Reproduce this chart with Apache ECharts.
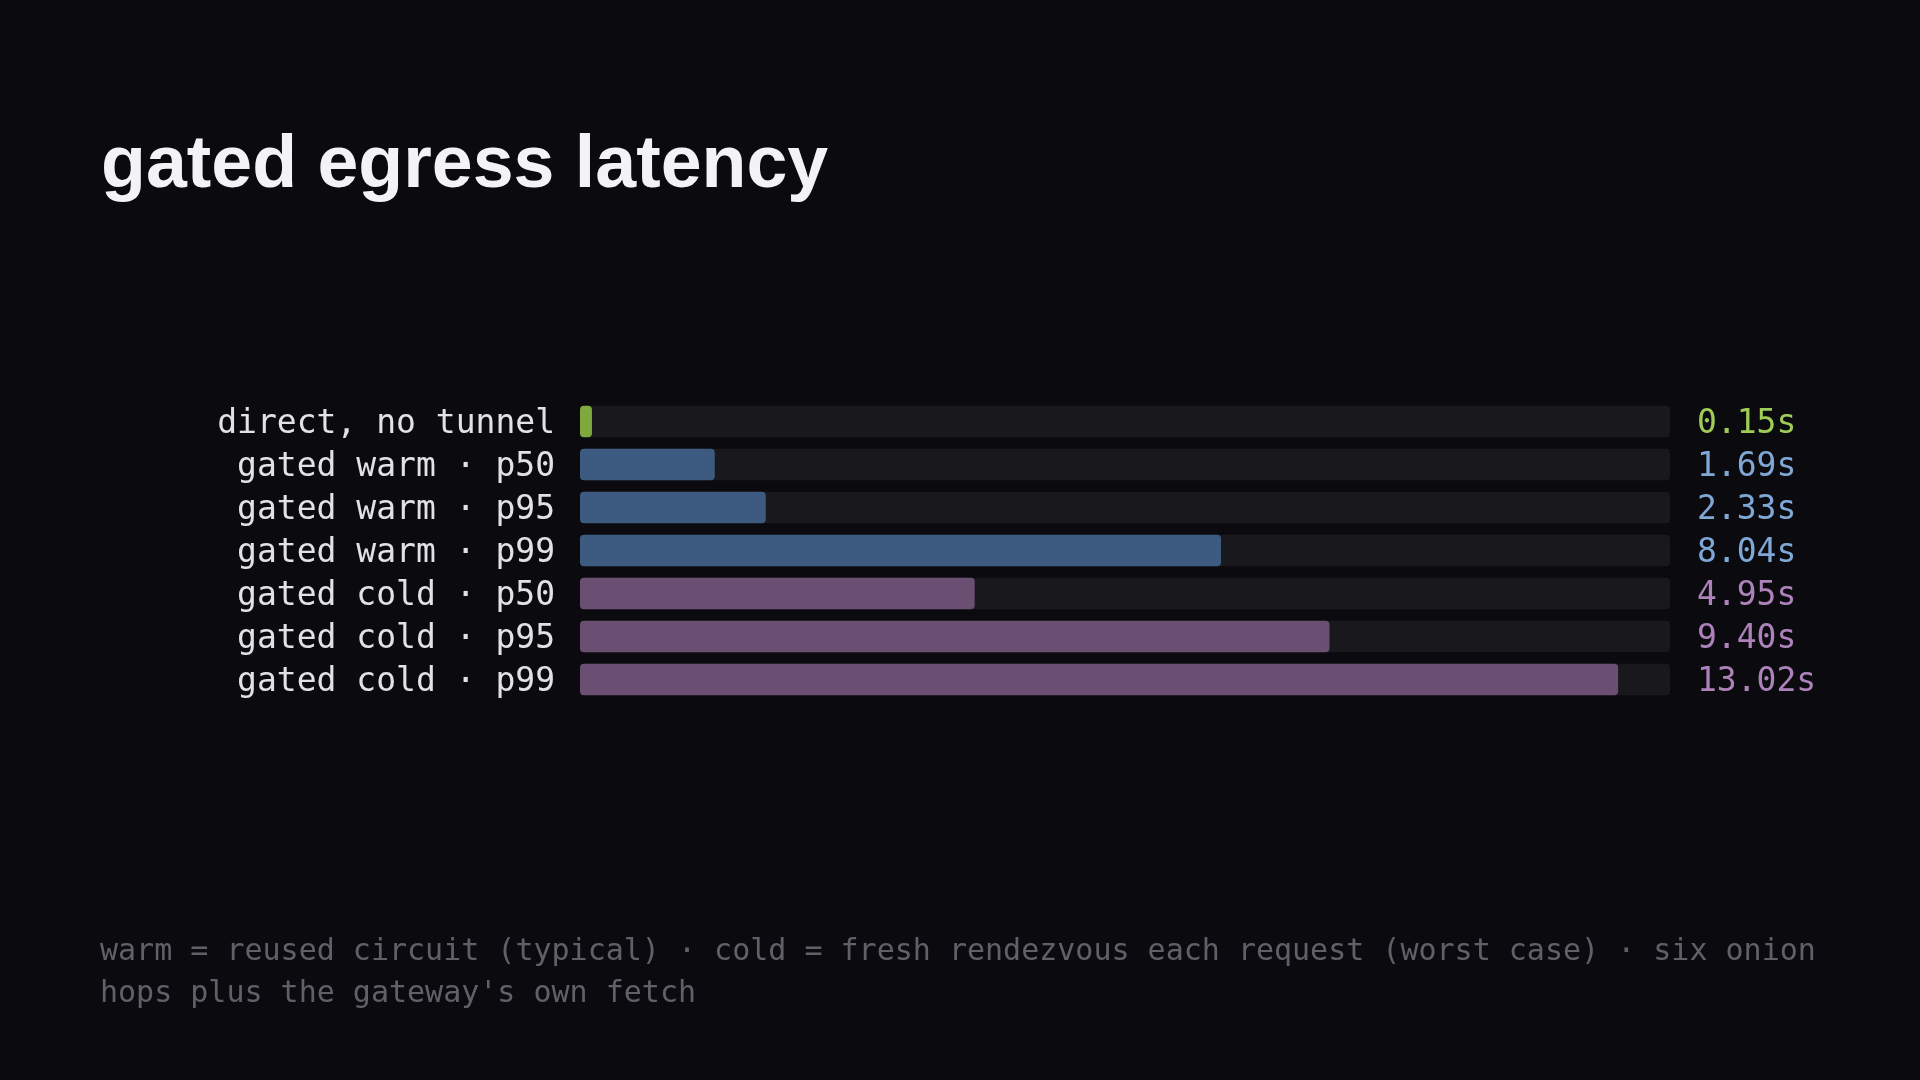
<!DOCTYPE html>
<html>
<head>
<meta charset="utf-8">
<script src="https://cdn.jsdelivr.net/npm/echarts@6/dist/echarts.min.js"></script>
<style>
html,body{margin:0;padding:0;background:#0b0b0f;}
#chart{width:1920px;height:1080px;}
</style>
</head>
<body>
<div id="chart"></div>
<script>
const titleText = 'gated egress latency';
const categories = ['direct, no tunnel','gated warm · p50','gated warm · p95','gated warm · p99','gated cold · p50','gated cold · p95','gated cold · p99'];
const values = [0.15, 1.69, 2.33, 8.04, 4.95, 9.40, 13.02];
const groups = ['direct','warm','warm','warm','cold','cold','cold'];
const footnoteLines = [
  "warm = reused circuit (typical) · cold = fresh rendezvous each request (worst case) · six onion",
  "hops plus the gateway's own fetch"
];

const barColors = {direct:'#7fa83e', warm:'#3d5b80', cold:'#6b4f73'};
const textColors = {direct:'#9fcb57', warm:'#80a8d6', cold:'#ad82bb'};
const mono = "'DejaVu Sans Mono', monospace";

const chart = echarts.init(document.getElementById('chart'));
chart.setOption({
  backgroundColor:'#0b0b0f',
  animation:false,
  title:{
    text:titleText, left:96, top:125,
    textStyle:{color:'#f3f3f5', fontSize:73.5, fontWeight:'bold', fontFamily:"'Liberation Sans', Arial, sans-serif", lineHeight:73}
  },
  grid:{left:580, right:250, top:400, height:301, containLabel:false},
  xAxis:{type:'value', min:0, max:Math.max(...values)*1.05, show:false},
  yAxis:[
    {type:'category', inverse:true, data:categories,
     axisLine:{show:false}, axisTick:{show:false}, splitLine:{show:false},
     axisLabel:{fontSize:33, fontFamily:mono, margin:25, align:'right', padding:[5,0,0,0],
       formatter:v=>'{c|'+v+'}',
       rich:{c:{color:'#e2e2e6', fontSize:33, fontFamily:mono}}}},
    {type:'category', inverse:true, position:'right', data:values.map(v=>v.toFixed(2)+'s'),
     axisLine:{show:false}, axisTick:{show:false}, splitLine:{show:false},
     axisLabel:{fontSize:33, fontFamily:mono, margin:27, align:'left', padding:[5,0,0,0],
       formatter:(v,i)=>'{'+groups[i]+'|'+v+'}',
       rich:{
         direct:{color:textColors.direct, fontSize:33, fontFamily:mono},
         warm:{color:textColors.warm, fontSize:33, fontFamily:mono},
         cold:{color:textColors.cold, fontSize:33, fontFamily:mono}
       }}}
  ],
  series:[{
    type:'bar', yAxisIndex:0, barWidth:31.5,
    showBackground:true,
    backgroundStyle:{color:'#18181d', borderRadius:4},
    data:values.map((v,i)=>({value:v, itemStyle:{color:barColors[groups[i]], borderRadius:4}}))
  }],
  graphic:[{
    type:'text', left:100, top:931,
    style:{text:footnoteLines.join('\n'), fill:'#606068', font:"30px "+mono, lineHeight:42}
  }]
});
</script>
</body>
</html>
